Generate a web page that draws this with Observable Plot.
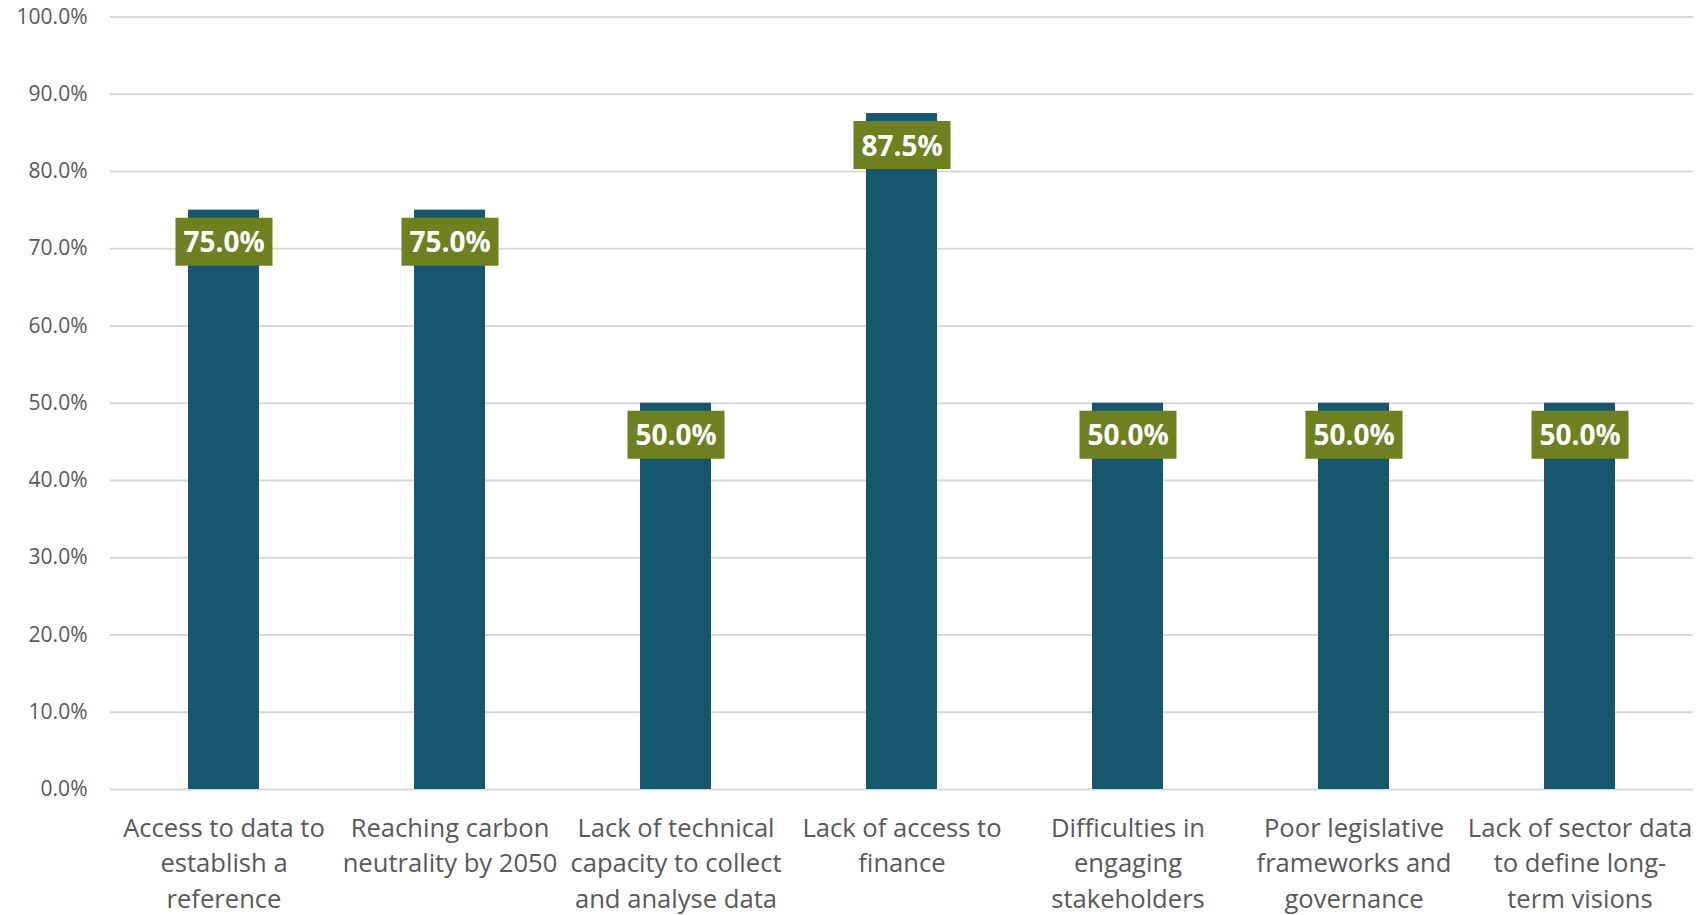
<!DOCTYPE html>
<html>
<head>
<meta charset="utf-8">
<script src="https://cdn.jsdelivr.net/npm/d3@7"></script>
<script src="https://cdn.jsdelivr.net/npm/@observablehq/plot@0.6"></script>
<style>
  html, body { margin: 0; padding: 0; background: #ffffff; }
  #chart { width: 1696px; height: 915px; }
</style>
</head>
<body>
<div id="chart"></div>
<script>
const categories = [
  "Access to data to\nestablish a\nreference",
  "Reaching carbon\nneutrality by 2050",
  "Lack of technical\ncapacity to collect\nand analyse data",
  "Lack of access to\nfinance",
  "Difficulties in\nengaging\nstakeholders",
  "Poor legislative\nframeworks and\ngovernance",
  "Lack of sector data\nto define long-\nterm visions"
];
const values = [0.75, 0.75, 0.50, 0.875, 0.50, 0.50, 0.50];
const yTicks = [0, 0.1, 0.2, 0.3, 0.4, 0.5, 0.6, 0.7, 0.8, 0.9, 1.0];

const data = categories.map((c, i) => ({category: c, value: values[i]}));
const pct = d3.format(".1%");

const labelBox = {
  draw(context) {
    context.rect(-48.5, -24, 97, 48);
  }
};

const chart = Plot.plot({
  width: 1696,
  height: 915,
  marginLeft: 110,
  marginRight: 3,
  marginTop: 16.5,
  marginBottom: 126,
  style: {fontFamily: "'Open Sans', sans-serif", background: "#ffffff", overflow: "visible"},
  x: {domain: categories, paddingInner: 0.686, paddingOuter: 0.335, label: null},
  y: {domain: [0, 1], label: null},
  marks: [
    Plot.gridY(yTicks, {stroke: "#d9d9d9", strokeOpacity: 1, strokeWidth: 2}),
    Plot.axisY(yTicks, {tickSize: 0, tickPadding: 23, tickFormat: pct, fontSize: 21, fill: "#595959", label: null}),
    Plot.axisX({tickSize: 0, tickPadding: 22, fontSize: 25.6, fill: "#595959", lineHeight: 1.39, lineAnchor: "top", label: null}),
    Plot.barY(data, {x: "category", y: "value", fill: "#17576d"}),
    Plot.dot(data, {x: "category", y: "value", symbol: labelBox, fill: "#6e801f", stroke: null, dy: 31.5}),
    Plot.text(data, {x: "category", y: "value", text: d => pct(d.value), dy: 33, fill: "#ffffff", fontSize: 28, fontWeight: "bold"})
  ]
});
document.getElementById("chart").appendChild(chart);
</script>
</body>
</html>
